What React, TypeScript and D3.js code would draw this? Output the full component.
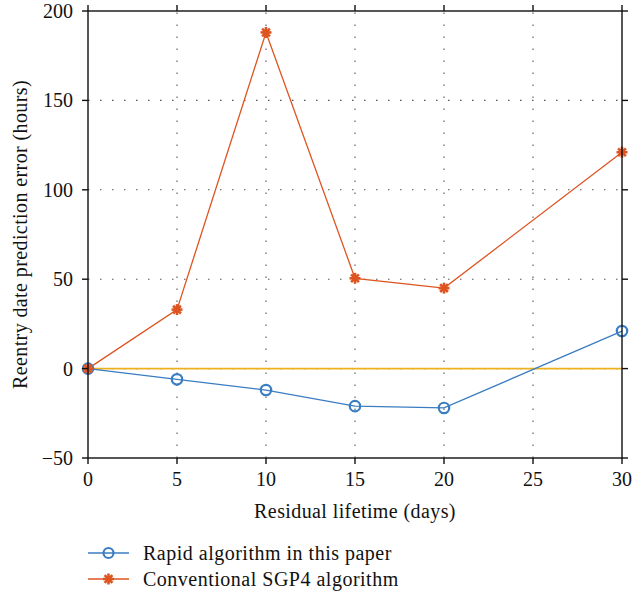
import React from "react";
import * as d3 from "d3";

const days = [0, 5, 10, 15, 20, 30];
const rapidError = [0, -6, -12, -21, -22, 21];
const sgp4Error = [0, 33, 188, 50.5, 45, 121];
const xTicks = [0, 5, 10, 15, 20, 25, 30];
const yTicks = [-50, 0, 50, 100, 150, 200];
const seriesNames = ["Rapid algorithm in this paper", "Conventional SGP4 algorithm"];

const W = 644;
const H = 591;
const plot = { left: 88, right: 622, top: 11, bottom: 458 };
const BLUE = "#3a7dc2";
const ORANGE = "#de5420";
const YELLOW = "#edb120";
const FONT = "Liberation Serif, DejaVu Serif, serif";
const FS = 20;
const LS = 0.4;

function Asterisk({ x, y, color }: { x: number; y: number; color: string }) {
  const r = 5.5;
  const angles = [0, 45, 90, 135];
  return (
    <g stroke={color} strokeWidth={2.6} strokeLinecap="butt">
      {angles.map((a) => {
        const rad = (a * Math.PI) / 180;
        return (
          <line
            key={a}
            x1={x - r * Math.cos(rad)}
            y1={y - r * Math.sin(rad)}
            x2={x + r * Math.cos(rad)}
            y2={y + r * Math.sin(rad)}
          />
        );
      })}
      <circle cx={x} cy={y} r={3} fill={color} stroke="none" />
    </g>
  );
}

export default function App() {
  const x = d3.scaleLinear().domain([0, 30]).range([plot.left, plot.right]);
  const y = d3.scaleLinear().domain([-50, 200]).range([plot.bottom, plot.top]);
  const line = d3
    .line<[number, number]>()
    .x((d) => x(d[0]))
    .y((d) => y(d[1]));
  const rapidPts: [number, number][] = days.map((d, i) => [d, rapidError[i]]);
  const sgpPts: [number, number][] = days.map((d, i) => [d, sgp4Error[i]]);

  return (
    <svg
      width={W}
      height={H}
      style={{ position: "absolute", left: 0, top: 0, background: "#fff", fontFamily: FONT }}
    >
      {/* grid */}
      <g stroke="#555" strokeWidth={1.1} strokeDasharray="1.5 10.5">
        {xTicks
          .filter((t) => t > 0 && t < 30)
          .map((t) => (
            <line key={"gx" + t} x1={x(t)} x2={x(t)} y1={plot.bottom} y2={plot.top} />
          ))}
        {yTicks
          .filter((t) => t > -50 && t < 200)
          .map((t) => (
            <line key={"gy" + t} x1={plot.left} x2={plot.right} y1={y(t)} y2={y(t)} />
          ))}
      </g>

      {/* zero reference */}
      <line x1={x(0)} x2={x(30)} y1={y(0)} y2={y(0)} stroke={YELLOW} strokeWidth={1.6} />

      {/* series */}
      <path d={line(rapidPts) || ""} fill="none" stroke={BLUE} strokeWidth={1.3} />
      <path d={line(sgpPts) || ""} fill="none" stroke={ORANGE} strokeWidth={1.3} />
      {rapidPts.map((p, i) => (
        <circle key={"r" + i} cx={x(p[0])} cy={y(p[1])} r={5.2} fill="none" stroke={BLUE} strokeWidth={2.2} />
      ))}
      {sgpPts.map((p, i) => (
        <Asterisk key={"s" + i} x={x(p[0])} y={y(p[1])} color={ORANGE} />
      ))}

      {/* axes box */}
      <rect
        x={plot.left}
        y={plot.top}
        width={plot.right - plot.left}
        height={plot.bottom - plot.top}
        fill="none"
        stroke="#111"
        strokeWidth={1.4}
      />
      <g stroke="#111" strokeWidth={1.4}>
        {xTicks.map((t) => (
          <g key={"tx" + t}>
            <line x1={x(t)} x2={x(t)} y1={plot.bottom} y2={plot.bottom + 6} />
            <line x1={x(t)} x2={x(t)} y1={plot.top} y2={plot.top - 6} />
          </g>
        ))}
        {yTicks.map((t) => (
          <g key={"ty" + t}>
            <line x1={plot.left} x2={plot.left - 6} y1={y(t)} y2={y(t)} />
            <line x1={plot.right} x2={plot.right + 6} y1={y(t)} y2={y(t)} />
          </g>
        ))}
      </g>

      {/* tick labels */}
      <g fontSize={FS} fill="#111">
        {xTicks.map((t) => (
          <text key={"lx" + t} x={x(t)} y={plot.bottom + 28} textAnchor="middle">
            {t}
          </text>
        ))}
        {yTicks.map((t) => (
          <text key={"ly" + t} x={plot.left - 15} y={y(t) + 7} textAnchor="end">
            {t < 0 ? "\u2212" + Math.abs(t) : t}
          </text>
        ))}
      </g>

      {/* axis titles */}
      <text
        x={(plot.left + plot.right) / 2}
        y={518}
        textAnchor="middle"
        fontSize={FS}
        letterSpacing={LS}
        fill="#111"
      >
        Residual lifetime (days)
      </text>
      <text
        transform={`translate(27, ${(plot.top + plot.bottom) / 2}) rotate(-90)`}
        textAnchor="middle"
        fontSize={FS}
        letterSpacing={LS}
        fill="#111"
      >
        Reentry date prediction error (hours)
      </text>

      {/* legend */}
      <g>
        <line x1={88} x2={129} y1={553} y2={553} stroke={BLUE} strokeWidth={1.3} />
        <circle cx={108.5} cy={553} r={5} fill="none" stroke={BLUE} strokeWidth={2.2} />
        <text x={143} y={560} fontSize={FS} letterSpacing={0.5} fill="#111">
          {seriesNames[0]}
        </text>
        <line x1={88} x2={129} y1={579} y2={579} stroke={ORANGE} strokeWidth={1.3} />
        <Asterisk x={108.5} y={579} color={ORANGE} />
        <text x={143} y={586} fontSize={FS} letterSpacing={0.5} fill="#111">
          {seriesNames[1]}
        </text>
      </g>
    </svg>
  );
}
